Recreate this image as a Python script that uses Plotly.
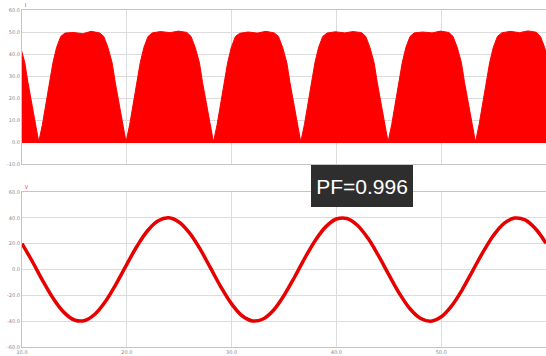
import plotly.graph_objects as go
from plotly.subplots import make_subplots

# ---- top channel: rectified current envelope (ms, A) ----
cur_t = [9.87, 10.27, 10.57, 10.92, 11.27, 11.6,
         11.95, 12.3, 12.6, 12.95, 13.3, 13.7, 14.1, 14.9, 15.8, 16.6, 17.4, 17.8, 18.2, 18.6, 18.9, 19.25, 19.6, 19.93,
         20.28, 20.63, 20.93, 21.28, 21.63, 22.03, 22.43, 23.23, 24.13, 24.93, 25.73, 26.13, 26.53, 26.93, 27.23, 27.58, 27.93, 28.27,
         28.62, 28.97, 29.27, 29.62, 29.97, 30.37, 30.77, 31.57, 32.47, 33.27, 34.07, 34.47, 34.87, 35.27, 35.57, 35.92, 36.27, 36.6,
         36.95, 37.3, 37.6, 37.95, 38.3, 38.7, 39.1, 39.9, 40.8, 41.6, 42.4, 42.8, 43.2, 43.6, 43.9, 44.25, 44.6, 44.93,
         45.28, 45.63, 45.93, 46.28, 46.63, 47.03, 47.43, 48.23, 49.13, 49.93, 50.73, 51.13, 51.53, 51.93, 52.23, 52.58, 52.93, 53.27,
         53.62, 53.97, 54.27, 54.62, 54.97, 55.37, 55.77, 56.57, 57.47, 58.27, 59.07, 59.47, 59.87, 60.27]
cur_v = [43, 36, 27, 18, 8, 0,
         8, 18, 27, 36, 43, 48, 49.5, 49.8, 49.2, 50.3, 49.6, 48, 43, 36, 27, 18, 8, 0,
         8, 18, 27, 36, 43, 48, 49.6, 50.2, 49.7, 50.4, 49.8, 48, 43, 36, 27, 18, 8, 0,
         8, 18, 27, 36, 43, 48, 49.4, 50.0, 49.5, 50.3, 49.6, 48, 43, 36, 27, 18, 8, 0,
         8, 18, 27, 36, 43, 48, 49.5, 50.1, 49.6, 50.2, 49.7, 48, 43, 36, 27, 18, 8, 0,
         8, 18, 27, 36, 43, 48, 49.6, 50.0, 49.6, 50.4, 49.8, 48, 43, 36, 27, 18, 8, 0,
         8, 18, 27, 36, 43, 48, 49.6, 50.3, 49.7, 50.5, 49.9, 48, 43, 36]

# ---- bottom channel: line current (ms, A) ----
line_t = list(range(10, 61))
line_v = [20.1, 6.0, -9.0, -22.7, -33.2, -39.1, -39.5, -34.3, -24.3, -10.9,
          4.0, 18.4, 30.2, 37.7, 40.0, 36.6, 28.1, 15.7, 1.0, -13.8,
          -26.6, -35.8, -39.8, -38.3, -31.5, -20.1, -6.0, 9.0, 22.7, 33.2,
          39.1, 39.5, 34.3, 24.3, 10.9, -4.0, -18.4, -30.2, -37.7, -40.0,
          -36.6, -28.1, -15.7, -1.0, 13.6, 26.5, 35.7, 39.8, 38.4, 31.5, 20.3]

x_ticks = [10, 20, 30, 40, 50, 60]
x_tick_text = ["10.0", "20.0", "30.0", "40.0", "50.0", "60.0"]
top_y_ticks = [-10, 0, 10, 20, 30, 40, 50, 60]
top_y_text = ["-10.0", "0.0", "10.0", "20.0", "30.0", "40.0", "50.0", "60.0"]
bot_y_ticks = [-60, -40, -20, 0, 20, 40, 60]
bot_y_text = ["-60.0", "-40.0", "-20.0", "0.0", "20.0", "40.0", "60.0"]
pf_text = "PF=0.996"

RED = "#ff0000"
GRID = "#dcdcdc"
FRAME = "#c4c4c4"

fig = make_subplots(rows=2, cols=1, shared_xaxes=False, vertical_spacing=0.0)

fig.add_trace(go.Scatter(x=cur_t, y=cur_v, mode="lines", fill="tozeroy",
                         fillcolor=RED, line=dict(color=RED, width=1),
                         showlegend=False, hoverinfo="skip"), row=1, col=1)
fig.add_trace(go.Scatter(x=line_t, y=line_v, mode="lines",
                         line=dict(color="#e60000", width=3.5, shape="spline"),
                         showlegend=False, hoverinfo="skip"), row=2, col=1)

tickfont = dict(family="DejaVu Sans", size=5, color="#888888")
common_x = dict(range=[10, 60], tickvals=x_ticks, showgrid=True, gridcolor=GRID,
                gridwidth=1, showline=True, linecolor=FRAME, linewidth=1, mirror=True,
                zeroline=False, ticks="", tickfont=tickfont)
fig.update_xaxes(**common_x)
fig.update_xaxes(showticklabels=False, row=1, col=1)
fig.update_xaxes(ticktext=x_tick_text, showticklabels=True, ticklabelstandoff=0, row=2, col=1)

fig.update_yaxes(range=[-10, 60], tickvals=top_y_ticks, ticktext=top_y_text,
                 showgrid=True, gridcolor=GRID, showline=True, linecolor=FRAME,
                 mirror=True, zeroline=True, zerolinecolor=RED, zerolinewidth=2,
                 ticks="", tickfont=tickfont, row=1, col=1)
fig.update_yaxes(range=[-60, 60], tickvals=bot_y_ticks, ticktext=bot_y_text,
                 showgrid=True, gridcolor=GRID, showline=True, linecolor=FRAME,
                 mirror=True, zeroline=False, ticks="", tickfont=tickfont, row=2, col=1)

W, H = 546, 356
L, R, T, B = 22, 0, 10, 9
ph = H - T - B
fig.update_layout(
    width=W, height=H, margin=dict(l=L, r=R, t=T, b=B),
    paper_bgcolor="white", plot_bgcolor="white",
    yaxis=dict(domain=[(H - B - 164) / ph, 1]),
    yaxis2=dict(domain=[0, (H - B - 192) / ph]),
)

# small red channel markers
fig.add_annotation(text="I", x=0.002, y=1.0, xref="paper", yref="paper",
                   xanchor="left", yanchor="bottom", showarrow=False,
                   font=dict(size=5, color=RED))
fig.add_annotation(text="V", x=0.002, y=(H - B - 192) / ph, xref="paper", yref="paper",
                   xanchor="left", yanchor="bottom", showarrow=False,
                   font=dict(size=5, color=RED))

fig.add_annotation(text=pf_text, x=(362 - L) / (W - L), y=(H - B - 186) / ph,
                   xref="paper", yref="paper", showarrow=False,
                   font=dict(family="Liberation Sans", size=21, color="white"),
                   bgcolor="#2e2e2e", bordercolor="#2e2e2e", width=100, height=40,
                   borderpad=0)

fig.write_html("out.html")
